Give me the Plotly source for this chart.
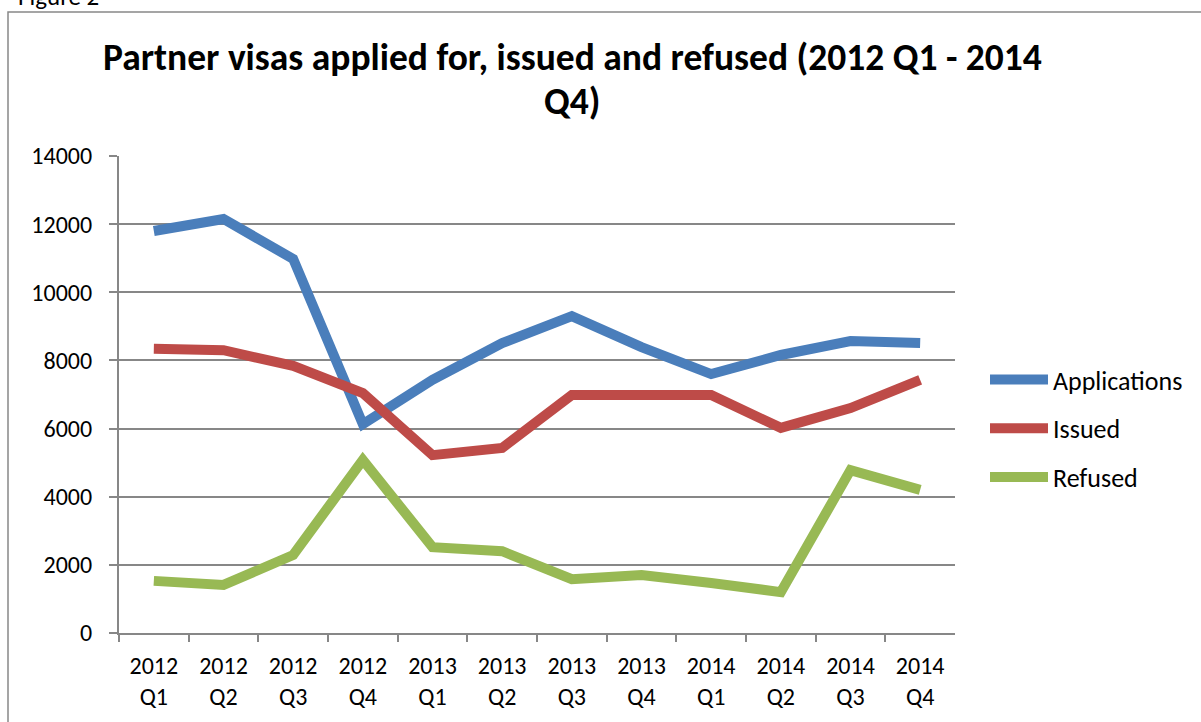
import plotly.graph_objects as go

W, H = 1201, 722

categories = ["2012<br>Q1", "2012<br>Q2", "2012<br>Q3", "2012<br>Q4",
              "2013<br>Q1", "2013<br>Q2", "2013<br>Q3", "2013<br>Q4",
              "2014<br>Q1", "2014<br>Q2", "2014<br>Q3", "2014<br>Q4"]
applications = [11800, 12150, 10980, 6130, 7430, 8510, 9300, 8390, 7600, 8160, 8570, 8510]
issued = [8340, 8300, 7840, 7040, 5220, 5430, 6985, 6960, 6985, 6020, 6600, 7430]
refused = [1530, 1410, 2290, 5080, 2520, 2400, 1580, 1700, 1470, 1200, 4780, 4200]
y_ticks = [0, 2000, 4000, 6000, 8000, 10000, 12000, 14000]

series = [("Applications", applications, "#4A7EBB"),
          ("Issued", issued, "#BE4B48"),
          ("Refused", refused, "#98B954")]

title_line1 = "Partner visas applied for, issued and refused (2012 Q1 - 2014"
title_line2 = "Q4)"

FONT = "Carlito, Lato, sans-serif"
GRID = "#878787"

fig = go.Figure()
for i, (name, vals, col) in enumerate(series):
    fig.add_trace(go.Scatter(x=categories, y=vals, name=name, mode="lines",
                             line=dict(color=col, width=10),
                             legendgroup=str(i)))

def px_x(v):
    return v / W

def px_y(v):
    return 1 - v / H

fig.update_layout(
    template="none",
    width=W, height=H,
    margin=dict(l=0, r=0, t=0, b=0, autoexpand=False),
    paper_bgcolor="white", plot_bgcolor="white",
    font=dict(family=FONT, size=24, color="black"),
    showlegend=True,
    legend=dict(x=px_x(985), y=px_y(356), xanchor="left", yanchor="top",
                font=dict(size=26, family=FONT), traceorder="grouped",
                tracegroupgap=12, itemwidth=58, bgcolor="rgba(0,0,0,0)",
                borderwidth=0),
    xaxis=dict(domain=[px_x(119), px_x(955)], type="category",
               range=[-0.5, 11.5], automargin=False,
               showgrid=False, showline=True, linecolor=GRID, linewidth=2,
               ticks="outside", tickson="boundaries", ticklen=7, tickwidth=2,
               tickcolor=GRID, tickfont=dict(size=24, family=FONT),
               ticklabelstandoff=10,
               fixedrange=True),
    yaxis=dict(domain=[px_y(633), px_y(156)], range=[0, 14000],
               automargin=False,
               tickvals=y_ticks, ticktext=[str(v) for v in y_ticks],
               showgrid=True, gridcolor=GRID, gridwidth=2,
               showline=True, linecolor=GRID, linewidth=2,
               ticks="outside", ticklen=8, tickwidth=2, tickcolor=GRID,
               tickfont=dict(size=24, family=FONT), zeroline=False,
               ticklabelstandoff=12,
               fixedrange=True),
    shapes=[dict(type="rect", xref="paper", yref="paper",
                 x0=px_x(8), y0=px_y(12), x1=px_x(1215), y1=px_y(740),
                 line=dict(color="#888888", width=1.5))],
    annotations=[
        dict(text="<b>" + title_line1 + "</b>",
             x=px_x(572), y=px_y(57), xref="paper", yref="paper",
             xanchor="center", yanchor="middle", showarrow=False,
             font=dict(size=37.5, family=FONT, color="black")),
        dict(text="<b>" + title_line2 + "</b>",
             x=px_x(572), y=px_y(101), xref="paper", yref="paper",
             xanchor="center", yanchor="middle", showarrow=False,
             font=dict(size=37.5, family=FONT, color="black")),
        dict(text="Figure 2", x=px_x(16), y=px_y(14), xref="paper", yref="paper",
             xanchor="left", yanchor="bottom", showarrow=False,
             font=dict(size=25, family=FONT, color="black")),
    ],
)

fig.write_html("out.html",
               config={"displayModeBar": False},
               post_script="document.body.style.margin='0';document.body.style.overflow='hidden';")
